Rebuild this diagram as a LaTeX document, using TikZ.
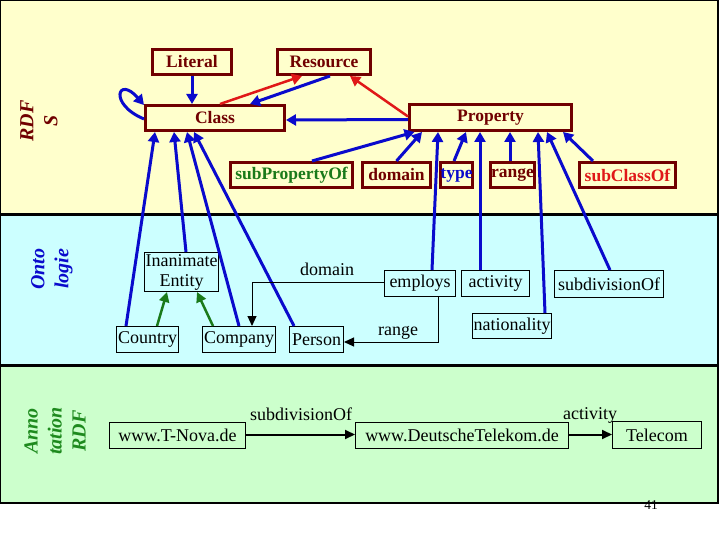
\documentclass[tikz,border=0pt]{standalone}
\usepackage{fontspec}
\setmainfont{Liberation Serif}
\usetikzlibrary{arrows.meta}
\definecolor{ylw}{HTML}{FFFFCC}
\definecolor{cyn}{HTML}{CCFFFF}
\definecolor{grn}{HTML}{CCFFCC}
\definecolor{drd}{HTML}{700000}
\definecolor{bl}{HTML}{0A0ACC}
\definecolor{rd}{HTML}{E01818}
\definecolor{dgr}{HTML}{1A7A1A}
\definecolor{lgr}{HTML}{1E8A1E}
\tikzset{
  rbox/.style={draw=drd, line width=3pt, inner sep=0pt, font=\fontsize{17.5}{19}\selectfont\bfseries, text=drd},
  kbox/.style={draw=black, line width=1pt, inner sep=0pt, font=\fontsize{18}{20}\selectfont, text=black},
  lbl/.style={inner sep=0pt, font=\fontsize{18}{20}\selectfont, anchor=base},
  side/.style={inner sep=0pt, rotate=90, align=center, font=\fontsize{20}{24}\selectfont\bfseries\itshape},
  barr/.style={draw=bl, line width=3pt, -{Triangle[length=10pt,width=11pt]}},
  rarr/.style={draw=rd, line width=2.5pt, -{Triangle[length=10pt,width=11pt]}},
  garr/.style={draw=dgr, line width=2.5pt, -{Triangle[length=10pt,width=10pt]}},
  karr/.style={draw=black, line width=1pt, -{Triangle[length=10pt,width=9pt]}},
  kkarr/.style={draw=black, line width=2pt, -{Triangle[length=10pt,width=9pt]}}
}
\begin{document}
\begin{tikzpicture}[x=1pt,y=-1pt]
\useasboundingbox (0,0) rectangle (720,540);
% panels
\fill[ylw] (0,0) rectangle (718,215);
\fill[cyn] (0,215) rectangle (718,365);
\fill[grn] (0,365) rectangle (718,503);
\draw[line width=1.2pt] (0.6,0.6) rectangle (718,503);
\draw[line width=3pt] (0,215) -- (718,215);
\draw[line width=3pt] (0,365) -- (718,365);
% side labels
\node[side, text=drd] (sRDFS) at (39,121) {RDF\\S};
\node[side, text=bl] (sOnto) at (52,269) {Onto\\logie};
\node[side, text=lgr] (sAnno) at (55,431) {Anno\\tation\\RDF};
% RDFS nodes
\node[rbox, minimum width=79, minimum height=25] (lit) at (192,62) {Literal};
\node[rbox, minimum width=93, minimum height=25] (res) at (324,62) {Resource};
\node[rbox, minimum width=139, minimum height=25] (cls) at (215,118) {Class};
\node[rbox, minimum width=162, minimum height=26] (prop) at (490.5,117.5) {Property};
\node[rbox, minimum width=122, minimum height=25, text=dgr] (subp) at (291.5,175) {subPropertyOf};
\node[rbox, minimum width=68, minimum height=25] (dom) at (396.5,175) {domain};
\node[rbox, minimum width=32, minimum height=25, text=bl] (typ) at (456.5,175) {type};
\node[rbox, minimum width=44, minimum height=25] (rng) at (512.5,175) {range};
\node[rbox, minimum width=96, minimum height=25, text=rd] (subc) at (627.5,175) {subClassOf};
% Ontologie nodes
\node[kbox, minimum width=74, minimum height=39, align=center] (inan) at (181.5,272) {Inanimate\\Entity};
\node[kbox, minimum width=62, minimum height=26] (country) at (147.5,339.5) {Country};
\node[kbox, minimum width=73, minimum height=26] (company) at (239,339.5) {Company};
\node[kbox, minimum width=54, minimum height=26] (person) at (316.5,339.5) {Person};
\node[kbox, minimum width=71, minimum height=26] (employs) at (420,283.5) {employs};
\node[kbox, minimum width=68, minimum height=26] (activity) at (495.5,283.5) {activity};
\node[kbox, minimum width=109, minimum height=27] (subdiv) at (609,284) {subdivisionOf};
\node[kbox, minimum width=79, minimum height=25] (nat) at (512,326) {nationality};
\node[lbl] (ldom) at (327,275) {domain};
\node[lbl] (lrng) at (398,335) {range};
% Annotation nodes
\node[kbox, minimum width=136, minimum height=26] (tnova) at (177.5,435.5) {www.T-Nova.de};
\node[kbox, minimum width=213, minimum height=26] (dt) at (462,435.5) {www.DeutscheTelekom.de};
\node[kbox, minimum width=89, minimum height=27] (telecom) at (657,435) {Telecom};
\node[lbl] (lsub) at (301,420) {subdivisionOf};
\node[lbl] (lact) at (590,419) {activity};
\node[inner sep=0pt, font=\fontsize{13.5}{15}\selectfont] (pg) at (651,505) {41};
% RDFS connectors
\draw[barr] (lit.south) -- ([xshift=-23]cls.north);
\draw[barr] ([xshift=6]res.south) -- ([xshift=35]cls.north);
\draw[rarr] ([xshift=5]cls.north) -- ([xshift=-22]res.south);
\draw[rarr] ([yshift=1]prop.west) -- ([xshift=26]res.south);
\draw[barr] ([yshift=-2]prop.west) -- ([yshift=-2]cls.east);
\draw[barr] ([yshift=-1]cls.west) .. controls (108,104) and (118,75) .. ([yshift=13]cls.west);
% to Class
\draw[barr] ([xshift=-21.5]country.north) -- ([xshift=-60]cls.south);
\draw[barr] ([xshift=4.5]inan.north) -- ([xshift=-41]cls.south);
\draw[barr] (company.north) -- ([xshift=-28]cls.south);
\draw[barr] ([xshift=-22.5]person.north) -- ([xshift=-21]cls.south);
% to Property
\draw[barr] ([xshift=20.5]subp.north) -- ([xshift=-76]prop.south);
\draw[barr] (dom.north) -- ([xshift=-68.5]prop.south);
\draw[barr] ([xshift=12]employs.north) -- ([xshift=-52.5]prop.south);
\draw[barr] ([xshift=-2.5]typ.north) -- ([xshift=-24.5]prop.south);
\draw[barr] ([xshift=-15.5]activity.north) -- ([xshift=-10.5]prop.south);
\draw[barr] ([xshift=-2.5]rng.north) -- ([xshift=19.5]prop.south);
\draw[barr] ([xshift=33]nat.north) -- ([xshift=47.5]prop.south);
\draw[barr] ([xshift=1]subdiv.north) -- ([xshift=56.5]prop.south);
\draw[barr] ([xshift=-34.5]subc.north) -- ([xshift=72.5]prop.south);
% Ontologie connectors
\draw[garr] ([xshift=9.5]country.north) -- ([xshift=-14.5]inan.south);
\draw[garr] ([xshift=-26]company.north) -- ([xshift=15.5]inan.south);
\draw[karr] ([yshift=1.5]employs.west) -| ([xshift=13]company.north);
\draw[karr] ([xshift=18]employs.south) |- ([yshift=-2.5]person.east);
% Annotation connectors
\draw[kkarr] ([yshift=1]tnova.east) -- ([yshift=1]dt.west);
\draw[kkarr] ([yshift=1]dt.east) -- ([yshift=0.5]telecom.west);
\end{tikzpicture}
\end{document}
